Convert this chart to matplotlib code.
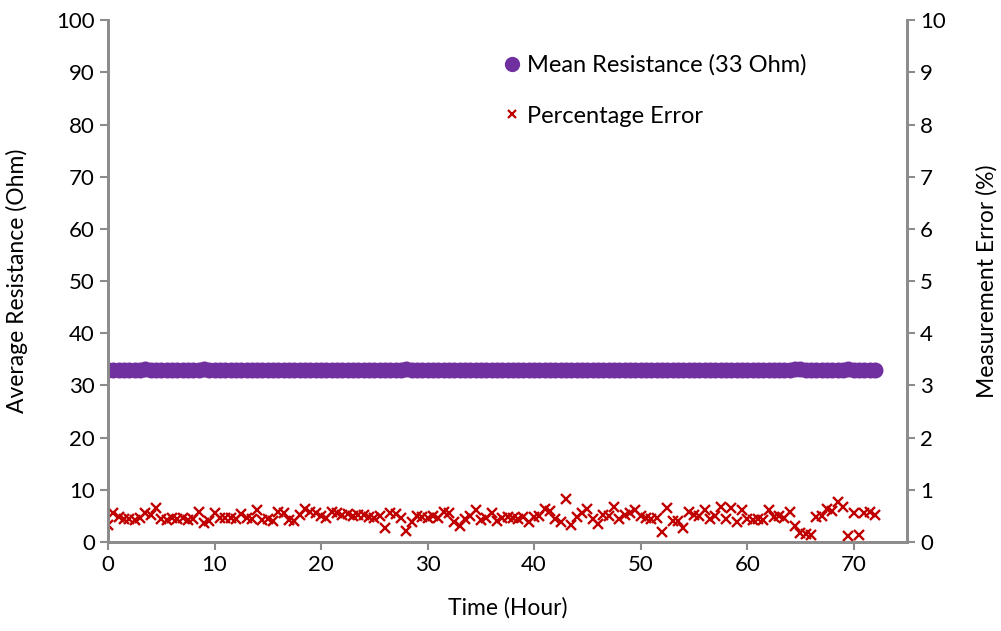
import matplotlib
matplotlib.use("Agg")
import matplotlib.pyplot as plt
from matplotlib.lines import Line2D

plt.rcParams['font.family'] = ['Lato', 'DejaVu Sans']

# sample times (hours)
hours = [
    0.0, 0.5, 1.0, 1.5, 2.0, 2.5, 3.0, 3.5, 4.0, 4.5, 5.0, 5.5, 6.0, 6.5, 7.0, 7.5,
    8.0, 8.5, 9.0, 9.5, 10.0, 10.5, 11.0, 11.5, 12.0, 12.5, 13.0, 13.5, 14.0, 14.5,
    15.0, 15.5, 16.0, 16.5, 17.0, 17.5, 18.0, 18.5, 19.0, 19.5, 20.0, 20.5, 21.0,
    21.5, 22.0, 22.5, 23.0, 23.5, 24.0, 24.5, 25.0, 25.5, 26.0, 26.5, 27.0, 27.5,
    28.0, 28.5, 29.0, 29.5, 30.0, 30.5, 31.0, 31.5, 32.0, 32.5, 33.0, 33.5, 34.0,
    34.5, 35.0, 35.5, 36.0, 36.5, 37.0, 37.5, 38.0, 38.5, 39.0, 39.5, 40.0, 40.5,
    41.0, 41.5, 42.0, 42.5, 43.0, 43.5, 44.0, 44.5, 45.0, 45.5, 46.0, 46.5, 47.0,
    47.5, 48.0, 48.5, 49.0, 49.5, 50.0, 50.5, 51.0, 51.5, 52.0, 52.5, 53.0, 53.5,
    54.0, 54.5, 55.0, 55.5, 56.0, 56.5, 57.0, 57.5, 58.0, 58.5, 59.0, 59.5, 60.0,
    60.5, 61.0, 61.5, 62.0, 62.5, 63.0, 63.5, 64.0, 64.5, 65.0, 65.5, 66.0, 66.5,
    67.0, 67.5, 68.0, 68.5, 69.0, 69.5, 70.0, 70.5, 71.0, 71.5, 72.0,
]

# mean resistance (Ohm)
resistance = [
    33.0, 33.0, 33.0, 33.0, 33.0, 33.0, 33.0, 33.1, 33.0, 33.0, 33.0, 33.0, 33.0,
    33.0, 33.0, 33.0, 33.0, 33.0, 33.1, 33.0, 33.0, 33.0, 33.0, 33.0, 33.0, 33.0,
    33.0, 33.0, 33.0, 33.0, 33.0, 33.0, 33.0, 33.0, 33.0, 33.0, 33.0, 33.0, 33.0,
    33.0, 33.0, 33.0, 33.0, 33.0, 33.0, 33.0, 33.0, 33.0, 33.0, 33.0, 33.0, 33.0,
    33.0, 33.0, 33.0, 33.0, 33.2, 33.0, 33.0, 33.0, 33.0, 33.0, 33.0, 33.0, 33.0,
    33.0, 33.0, 33.0, 33.0, 33.0, 33.0, 33.0, 33.0, 33.0, 33.0, 33.0, 33.0, 33.0,
    33.0, 33.0, 33.0, 33.0, 33.0, 33.0, 33.0, 33.0, 33.0, 33.0, 33.0, 33.0, 33.0,
    33.0, 33.0, 33.0, 33.0, 33.0, 33.0, 33.0, 33.0, 33.0, 33.0, 33.0, 33.0, 33.0,
    33.0, 33.0, 33.0, 33.0, 33.0, 33.0, 33.0, 33.0, 33.0, 33.0, 33.0, 33.0, 33.0,
    33.0, 33.0, 33.0, 33.0, 33.0, 33.0, 33.0, 33.0, 33.0, 33.0, 33.0, 33.0, 33.1,
    33.1, 33.0, 33.0, 33.0, 33.0, 33.0, 33.0, 33.0, 33.0, 33.1, 33.0, 33.0, 33.0,
    33.0, 33.0,
]

# measurement error (%)
error_pct = [
    0.33, 0.55, 0.48, 0.44, 0.45, 0.43, 0.47, 0.56, 0.52, 0.66, 0.45, 0.43, 0.46,
    0.44, 0.46, 0.42, 0.45, 0.58, 0.37, 0.40, 0.55, 0.47, 0.46, 0.47, 0.45, 0.54,
    0.46, 0.44, 0.62, 0.43, 0.45, 0.41, 0.57, 0.55, 0.42, 0.40, 0.51, 0.64, 0.57,
    0.55, 0.49, 0.47, 0.57, 0.55, 0.51, 0.53, 0.50, 0.52, 0.51, 0.48, 0.46, 0.49,
    0.27, 0.55, 0.53, 0.46, 0.22, 0.38, 0.50, 0.48, 0.47, 0.49, 0.46, 0.57, 0.55,
    0.38, 0.31, 0.45, 0.50, 0.62, 0.43, 0.47, 0.55, 0.40, 0.46, 0.48, 0.47, 0.45,
    0.48, 0.38, 0.48, 0.50, 0.63, 0.60, 0.45, 0.38, 0.82, 0.33, 0.48, 0.55, 0.63,
    0.45, 0.35, 0.52, 0.50, 0.67, 0.45, 0.52, 0.55, 0.61, 0.50, 0.46, 0.45, 0.47,
    0.19, 0.66, 0.41, 0.40, 0.26, 0.57, 0.52, 0.50, 0.61, 0.45, 0.50, 0.67, 0.45,
    0.65, 0.38, 0.62, 0.45, 0.43, 0.44, 0.42, 0.62, 0.48, 0.50, 0.47, 0.57, 0.31,
    0.17, 0.16, 0.13, 0.48, 0.50, 0.64, 0.60, 0.77, 0.67, 0.11, 0.55, 0.13, 0.55,
    0.57, 0.52,
]

PURPLE = '#7030A0'
RED = '#C00000'
GREY = '#8C8C8C'

fig = plt.figure(figsize=(10.01, 6.31), dpi=100)
ax = fig.add_axes((0.1079, 0.141, 0.7982, 0.827))
ax2 = ax.twinx()

ax.plot(hours, resistance, 'o', color=PURPLE, markersize=11.5, markeredgewidth=0)
ax2.plot(hours, error_pct, 'x', color=RED, markersize=7, markeredgewidth=1.7)

ax.set_xlim(0, 75)
ax.set_ylim(0, 100)
ax2.set_ylim(0, 10)
ax.set_xticks(range(0, 71, 10))
ax.set_yticks(range(0, 101, 10))
ax2.set_yticks(range(0, 11, 1))

for a in (ax, ax2):
    for side in ('left', 'right', 'bottom'):
        a.spines[side].set_color(GREY)
        a.spines[side].set_linewidth(2)
    a.spines['top'].set_visible(False)
    a.tick_params(colors=GREY, width=1.5, length=6, labelsize=16,
                  labelcolor='black', direction='out')

ax.set_xlabel('Time (Hour)', fontsize=16.5, labelpad=16)
ax.set_ylabel('Average Resistance (Ohm)', fontsize=16.5, labelpad=20)
ax2.set_ylabel('Measurement Error (%)', fontsize=16.5, labelpad=22)

handles = [
    Line2D([], [], linestyle='none', marker='o', color=PURPLE, markersize=11,
           markeredgewidth=0),
    Line2D([], [], linestyle='none', marker='x', color=RED, markersize=5.5,
           markeredgewidth=1.6),
]
ax2.legend(handles, ['Mean Resistance (33 Ohm)', 'Percentage Error'],
           loc='upper left', bbox_to_anchor=(0.47, 0.975), frameon=False,
           fontsize=17, labelspacing=1.25, handlelength=0.6, handletextpad=0.35)

fig.savefig('out.png', dpi=100)
